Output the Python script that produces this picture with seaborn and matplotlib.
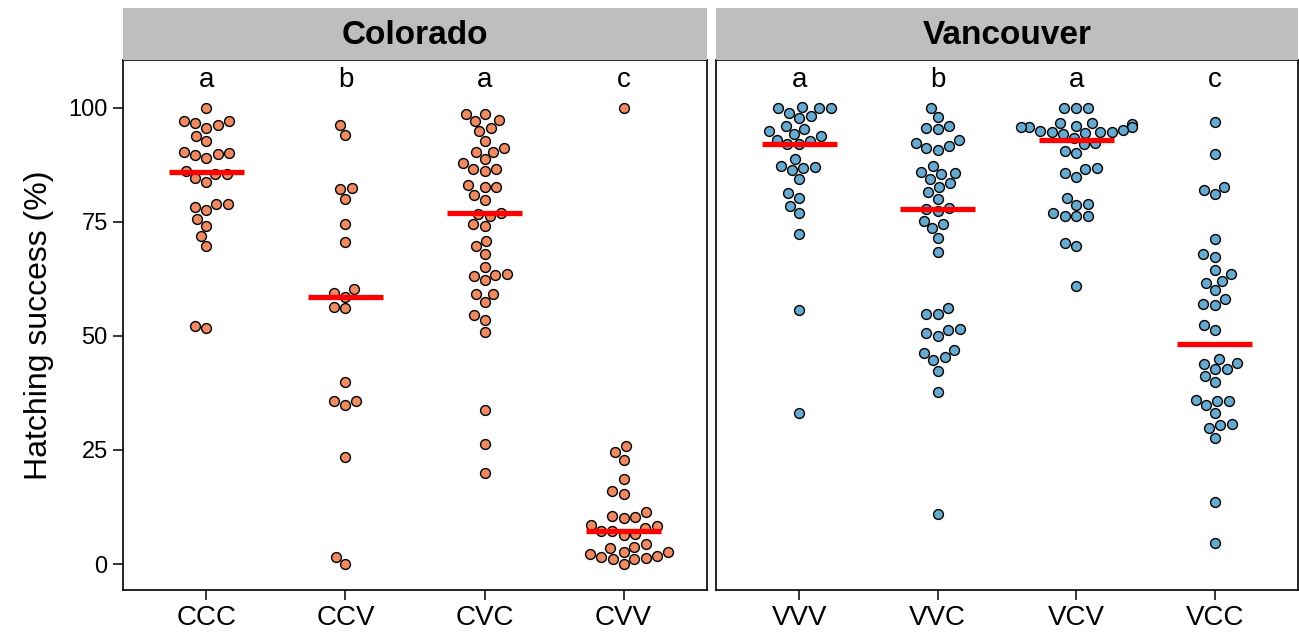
import numpy as np
import pandas as pd
import matplotlib
matplotlib.use("Agg")
import matplotlib.pyplot as plt
import seaborn as sns

sns.set_theme(style="white")
plt.rcParams["font.family"] = ["Liberation Sans", "DejaVu Sans"]
plt.rcParams.update({"text.color": "black", "axes.labelcolor": "black",
                     "xtick.color": "black", "ytick.color": "black"})

# Hatching success (%) per cross, grouped by population
ccc = [100, 97.1, 97.1, 96.6, 96.2, 95.7, 93.8, 92.8, 90.4, 90.2, 89.8, 89.6, 89.1,
       86.2, 85.5, 85.5, 84.6, 83.8, 78.9, 78.9, 78.2, 77.6, 75.7, 74.1, 71.9, 69.7,
       52.2, 51.8]
ccv = [96.3, 94.1, 82.4, 82.2, 80.0, 74.6, 70.6, 60.2, 59.4, 58.6, 56.4, 56.1,
       39.9, 35.8, 35.7, 34.8, 23.4, 1.6, 0.0]
cvc = [98.7, 98.7, 97.4, 97.2, 95.6, 94.9, 92.7, 91.1, 90.4, 90.4, 88.7, 88.0, 86.6,
       86.5, 86.2, 83.0, 82.7, 82.6, 80.9, 79.7, 76.9, 76.8, 76.3, 74.5, 74.1, 70.9,
       69.7, 68.0, 65.1, 63.6, 63.4, 63.2, 62.3, 59.2, 59.1, 57.5, 54.6, 53.5, 50.8,
       33.8, 26.3, 19.9]
cvv = [100, 25.9, 24.6, 22.8, 18.6, 15.9, 15.4, 11.3, 10.5, 10.2, 10.0, 8.6, 8.3, 7.9,
       7.3, 7.2, 6.6, 6.4, 4.4, 3.7, 3.4, 2.7, 2.7, 2.2, 1.8, 1.5, 1.4, 1.2, 1.0, 0.0]

vvv = [100.1, 100, 100, 100, 98.8, 98.2, 97.7, 96.1, 95.4, 94.9, 94.2, 93.9, 93.0,
       92.8, 92.0, 92.0, 88.7, 87.3, 87.1, 86.9, 86.3, 84.4, 81.3, 80.3, 78.5, 77.0,
       72.4, 55.7, 33.2]
vvc = [100, 98.0, 96.1, 95.5, 95.4, 93.0, 92.4, 91.7, 91.1, 90.8, 87.3, 86.0, 85.7,
       85.5, 84.4, 83.5, 82.7, 81.5, 80.0, 78.0, 77.8, 77.5, 75.3, 74.6, 73.6, 71.4,
       68.4, 56.1, 54.8, 54.8, 51.5, 51.3, 50.6, 50.0, 46.9, 46.3, 45.3, 44.7, 42.4,
       37.8, 11.0]
vcv = [100, 100, 100, 96.6, 96.6, 96.4, 96.1, 95.8, 95.8, 95.8, 95.2, 95.0, 94.8,
       94.7, 94.7, 94.6, 94.2, 93.5, 92.4, 92.0, 90.6, 90.1, 86.9, 86.6, 85.7, 84.9,
       80.3, 78.9, 78.7, 76.9, 76.4, 76.4, 76.2, 70.3, 69.7, 61.0]
vcc = [96.8, 89.9, 82.7, 81.9, 81.1, 71.2, 68.0, 67.4, 64.5, 63.6, 62.1, 61.7, 60.1,
       58.1, 57.0, 56.8, 52.3, 51.3, 45.0, 44.0, 43.8, 42.8, 42.7, 41.2, 39.9, 36.0,
       35.7, 35.7, 34.9, 33.2, 30.6, 30.4, 29.8, 27.7, 13.6, 4.5]

colorado_crosses = ["CCC", "CCV", "CVC", "CVV"]
vancouver_crosses = ["VVV", "VVC", "VCV", "VCC"]
colorado_letters = ["a", "b", "a", "c"]
vancouver_letters = ["a", "b", "a", "c"]
yticks = [0, 25, 50, 75, 100]

panels = [
    ("Colorado", colorado_crosses, [ccc, ccv, cvc, cvv], colorado_letters, "#EF8A62"),
    ("Vancouver", vancouver_crosses, [vvv, vvc, vcv, vcc], vancouver_letters, "#67A9CF"),
]

W, H = 1299, 637
fig = plt.figure(figsize=(W / 100, H / 100), dpi=100)

panel_px = [(123, 707), (716, 1298)]
top_px, bot_px, strip_top_px = 60, 590, 8

for (title, crosses, groups, letters, color), (x0, x1) in zip(panels, panel_px):
    rect = [x0 / W, 1 - bot_px / H, (x1 - x0) / W, (bot_px - top_px) / H]
    ax = fig.add_axes(rect)
    df = pd.DataFrame({
        "cross": np.repeat(crosses, [len(g) for g in groups]),
        "success": np.concatenate(groups),
    })
    sns.swarmplot(data=df, x="cross", y="success", order=crosses, ax=ax,
                  color=color, edgecolor="black", linewidth=1.0, size=7.1,
                  warn_thresh=1.0, zorder=2)
    for i, g in enumerate(groups):
        ax.hlines(np.median(g), i - 0.27, i + 0.27, color="#FF0000",
                  linewidth=3.8, zorder=3)
        ax.text(i, 103.3, letters[i], ha="center", va="bottom", fontsize=20)
    ax.set_xlim(-0.6, 3.6)
    ax.set_ylim(-5.7, 110.5)
    ax.set_xlabel("")
    for s in ax.spines.values():
        s.set_color("black")
        s.set_linewidth(1.2)
    ax.tick_params(axis="x", direction="out", length=7, width=1.1, color="black",
                   labelsize=20, pad=4, bottom=True)
    if x0 == panel_px[0][0]:
        ax.set_yticks(yticks)
        ax.set_ylabel("Hatching success (%)", fontsize=23, labelpad=10)
        ax.tick_params(axis="y", direction="out", length=7, width=1.1,
                       color="black", labelsize=17, pad=4, left=True)
    else:
        ax.set_yticks(yticks)
        ax.set_yticklabels([])
        ax.set_ylabel("")
        ax.tick_params(axis="y", length=0)

    # facet strip
    sax = fig.add_axes([x0 / W, 1 - top_px / H, (x1 - x0) / W,
                        (top_px - strip_top_px) / H])
    sax.set_facecolor("#BEBEBE")
    sax.set_xticks([])
    sax.set_yticks([])
    for s in sax.spines.values():
        s.set_visible(False)
    sax.text(0.5, 0.47, title, ha="center", va="center", fontsize=24,
             fontweight="bold", transform=sax.transAxes)

fig.savefig("out.png", dpi=100)
